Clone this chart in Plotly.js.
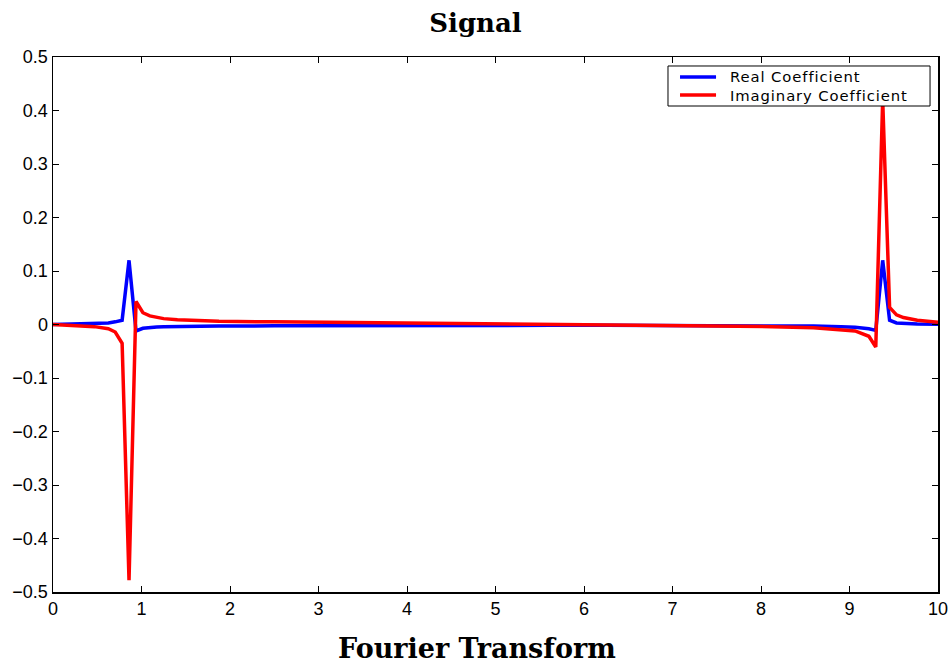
<!DOCTYPE html>
<html>
<head>
<meta charset="utf-8">
<script src="https://cdn.plot.ly/plotly-3.0.1.min.js"></script>
<style>html,body{margin:0;padding:0;background:#fff;}#chart{width:951px;height:665px;}</style>
</head>
<body>
<div id="chart"></div>
<script>
const freq = [0, 0.156, 0.313, 0.469, 0.625, 0.703, 0.781, 0.859, 0.938, 1.016, 1.094, 1.172, 1.25, 1.406, 1.563, 1.875, 2.5, 3.125, 3.75, 4.375, 5, 5.625, 6.25, 6.875, 7.5, 8.125, 8.594, 8.906, 9.063, 9.219, 9.297, 9.375, 9.453, 9.531, 9.609, 9.766, 10];
const realCoef = [0, 0.0005, 0.001, 0.0015, 0.003, 0.005, 0.008, 0.120, -0.012, -0.007, -0.005, -0.0045, -0.004, -0.0035, -0.003, -0.003, -0.0025, -0.002, -0.002, -0.002, -0.0015, -0.0015, -0.0015, -0.0015, -0.002, -0.002, -0.003, -0.004, -0.005, -0.008, -0.011, 0.120, 0.008, 0.003, 0.002, 0.001, 0.0005];
const imagCoef = [0, -0.001, -0.002, -0.004, -0.008, -0.014, -0.035, -0.478, 0.043, 0.022, 0.016, 0.013, 0.011, 0.009, 0.008, 0.006, 0.005, 0.004, 0.003, 0.002, 0.001, 0.0005, 0, -0.001, -0.002, -0.004, -0.006, -0.009, -0.012, -0.022, -0.042, 0.42, 0.032, 0.018, 0.013, 0.008, 0.004];
const seriesNames = ['Real Coefficient', 'Imaginary Coefficient'];
const seriesColors = ['#0000ff', '#ff0000'];
const xTicks = [0,1,2,3,4,5,6,7,8,9,10];
const yTicks = [-0.5,-0.4,-0.3,-0.2,-0.1,0,0.1,0.2,0.3,0.4,0.5];
const yTickText = ['\u22120.5','\u22120.4','\u22120.3','\u22120.2','\u22120.1','0','0.1','0.2','0.3','0.4','0.5'];

const traces = [
  {x: freq, y: realCoef, name: seriesNames[0], mode: 'lines', showlegend: false, line: {color: seriesColors[0], width: 3.5}},
  {x: freq, y: imagCoef, name: seriesNames[1], mode: 'lines', showlegend: false, line: {color: seriesColors[1], width: 3.5}}
];
const axisCommon = {
  showline: true, linecolor: '#000', linewidth: 1.5, mirror: 'ticks',
  ticks: 'inside', ticklen: 6, tickcolor: '#000', tickwidth: 1,
  showgrid: false, zeroline: false,
  tickfont: {family: 'Liberation Sans, Arial, sans-serif', size: 18, color: '#000'}
};

// legend box (paper coordinates)
const lgX0 = 0.6949, lgX1 = 0.991, lgY0 = 0.9084, lgY1 = 0.9832;
const lgRowY = [0.9626, 0.9290];
const lgLineX = [0.7085, 0.7492], lgTextX = 0.7638;
const shapes = [{type: 'rect', xref: 'paper', yref: 'paper', x0: lgX0, x1: lgX1, y0: lgY0, y1: lgY1,
  fillcolor: '#fff', line: {color: '#000', width: 1}, layer: 'above'}];
seriesNames.forEach((n, i) => {
  shapes.push({type: 'line', xref: 'paper', yref: 'paper', x0: lgLineX[0], x1: lgLineX[1], y0: lgRowY[i], y1: lgRowY[i],
    line: {color: seriesColors[i], width: 3.5}, layer: 'above'});
});
const annotations = [
  {text: seriesNames.map(n => '<span style="letter-spacing:0.9px">' + n + '</span>').join('<br>'),
    xref: 'paper', yref: 'paper', x: lgTextX, xanchor: 'left', align: 'left',
    y: (lgRowY[0] + lgRowY[1]) / 2, yanchor: 'middle', showarrow: false, borderpad: 0,
    font: {family: 'DejaVu Sans, sans-serif', size: 14.8, color: '#000'}},
  {text: '<b>Fourier Transform</b>', xref: 'paper', yref: 'paper', x: 0.479, xanchor: 'center',
    y: -0.105, yanchor: 'middle', showarrow: false,
    font: {family: 'DejaVu Serif, serif', size: 27, color: '#000'}}
];

const layout = {
  width: 951, height: 665,
  margin: {l: 53, r: 13, t: 57, b: 73},
  paper_bgcolor: '#fff', plot_bgcolor: '#fff',
  title: {text: '<b>Signal</b>', x: 0.5, xanchor: 'center', y: 0.965, yanchor: 'middle',
    font: {family: 'DejaVu Serif, serif', size: 26, color: '#000'}},
  xaxis: Object.assign({}, axisCommon, {range: [0, 10], tickvals: xTicks, ticktext: xTicks.map(String)}),
  yaxis: Object.assign({}, axisCommon, {range: [-0.5, 0.5], tickvals: yTicks, ticktext: yTickText}),
  shapes: shapes,
  annotations: annotations,
  showlegend: false
};
Plotly.newPlot('chart', traces, layout, {displayModeBar: false, staticPlot: true});
</script>
</body>
</html>
